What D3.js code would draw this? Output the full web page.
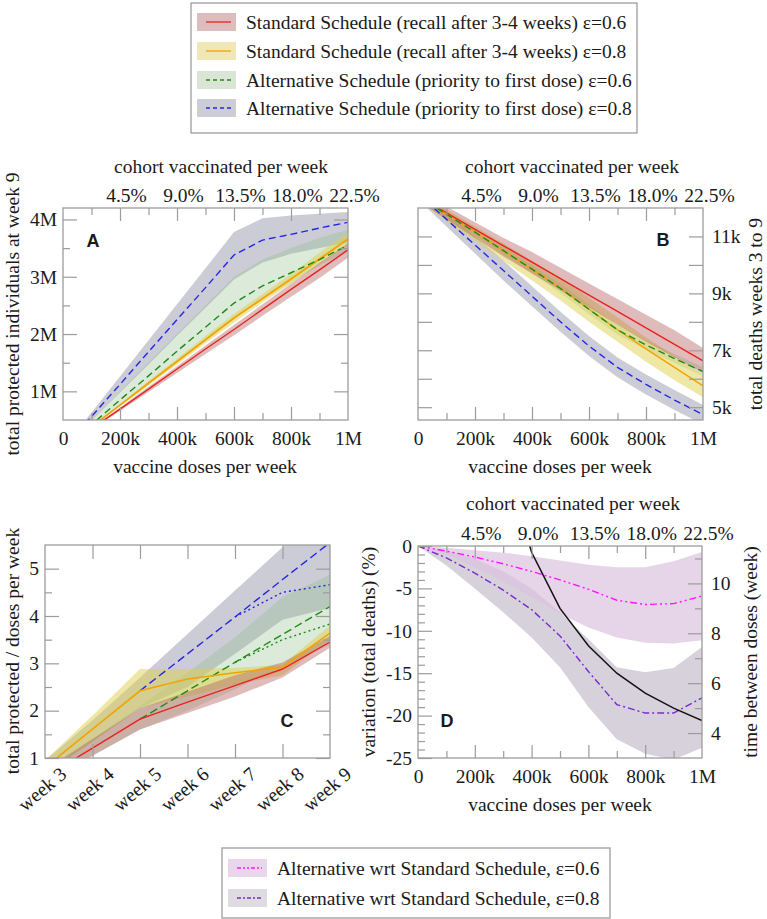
<!DOCTYPE html>
<html><head><meta charset="utf-8">
<script src="https://cdn.jsdelivr.net/npm/d3@7"></script>
<style>body{margin:0;background:#fff}svg{display:block}</style>
</head><body><svg id="c" width="767" height="919"></svg>
<script>
// ---------- DATA ----------
const doses = [0,100000,200000,300000,400000,500000,600000,700000,800000,900000,1000000];
const doseTicks = [0,200000,400000,600000,800000,1000000];
const doseLabels = ["0","200k","400k","600k","800k","1M"];
const cohortTicks = [200000,400000,600000,800000,1000000];
const cohortLabels = ["4.5%","9.0%","13.5%","18.0%","22.5%"];

// Panel A: total protected individuals at week 9 (millions)
const aRed    = [0,0.35,0.69,1.04,1.39,1.74,2.08,2.43,2.78,3.12,3.47];
const aOrange = [0,0.38,0.76,1.14,1.52,1.90,2.28,2.62,2.96,3.31,3.66];
const aGreen  = [0,0.42,0.85,1.27,1.70,2.12,2.54,2.84,3.07,3.30,3.55];
const aBlue   = [0,0.56,1.12,1.69,2.25,2.81,3.38,3.64,3.74,3.85,3.95];
const aRedLo    = [0,0.33,0.66,0.99,1.32,1.65,1.98,2.32,2.65,2.98,3.33];
const aRedHi    = [0,0.36,0.72,1.08,1.44,1.80,2.16,2.52,2.88,3.24,3.58];
const aOrangeLo = [0,0.37,0.74,1.10,1.47,1.84,2.20,2.55,2.88,3.22,3.56];
const aOrangeHi = [0,0.39,0.78,1.18,1.57,1.96,2.35,2.70,3.05,3.42,3.78];
const aGreenLo  = [0,0.38,0.76,1.14,1.52,1.90,2.28,2.60,2.90,3.20,3.45];
const aGreenHi  = [0,0.50,1.00,1.50,2.00,2.50,3.00,3.30,3.50,3.68,3.82];
const aBlueLo   = [0,0.49,0.98,1.47,1.97,2.46,2.95,3.25,3.40,3.50,3.60];
const aBlueHi   = [0,0.63,1.26,1.89,2.52,3.15,3.78,4.02,4.07,4.10,4.13];
const aTicks = [1,2,3,4];
const aTickLabels = ["1M","2M","3M","4M"];

// Panel B: total deaths weeks 3 to 9 (thousands)
const bRed    = [12.4,11.83,11.25,10.67,10.10,9.52,8.94,8.37,7.79,7.21,6.63];
const bOrange = [12.4,11.78,11.15,10.50,9.85,9.17,8.44,7.72,7.05,6.40,5.75];
const bGreen  = [12.4,11.78,11.15,10.50,9.85,9.17,8.44,7.72,7.19,6.71,6.25];
const bBlue   = [12.5,11.60,10.70,9.80,8.90,8.00,7.15,6.40,5.80,5.25,4.74];
const bRedLo    = [12.25,11.60,10.95,10.30,9.70,9.10,8.50,7.90,7.30,6.75,6.20];
const bRedHi    = [12.55,12.05,11.50,10.95,10.45,9.90,9.35,8.80,8.25,7.70,7.08];
const bOrangeLo = [12.25,11.55,10.85,10.15,9.45,8.75,8.00,7.30,6.60,5.95,5.35];
const bOrangeHi = [12.55,11.95,11.35,10.75,10.15,9.55,8.85,8.15,7.45,6.80,6.15];
const bGreenLo  = [12.30,11.68,11.03,10.37,9.70,9.00,8.27,7.55,7.03,6.55,6.10];
const bGreenHi  = [12.50,11.88,11.27,10.63,10.00,9.33,8.60,7.89,7.35,6.87,6.40];
const bBlueLo   = [12.30,11.35,10.40,9.45,8.55,7.65,6.80,6.05,5.45,4.90,4.40];
const bBlueHi   = [12.70,11.85,11.00,10.15,9.25,8.35,7.50,6.75,6.15,5.60,5.08];
const bMinorTicks = [5,6,7,8,9,10,11];
const bTicks = [5,7,9,11];
const bTickLabels = ["5k","7k","9k","11k"];

// Panel C: total protected / doses per week
const weeks = ["week 3","week 4","week 5","week 6","week 7","week 8","week 9"];
const cRed       = [0.60,1.21,1.82,2.18,2.53,2.88,3.45];
const cOrange    = [0.80,1.61,2.42,2.67,2.80,2.92,3.64];
const cGreenDash = [null,null,1.82,2.42,3.02,3.61,4.20];
const cGreenDot  = [null,null,null,null,3.02,3.50,3.83];
const cBlueDash  = [null,null,2.42,3.20,3.98,4.77,5.55];
const cBlueDot   = [null,null,null,null,3.98,4.50,4.66];
const cRedLo    = [0.45,1.05,1.60,1.95,2.30,2.70,3.33];
const cRedHi    = [0.75,1.40,2.05,2.40,2.75,3.02,3.58];
const cOrangeLo = [0.65,1.35,2.05,2.30,2.55,2.75,3.50];
const cOrangeHi = [0.95,1.90,2.88,2.88,2.90,2.97,3.80];
const cGreenLo  = [0.45,1.05,1.60,2.00,2.45,2.95,3.40];
const cGreenHi  = [0.75,1.40,2.10,2.80,3.55,4.40,4.87];
const cBlueLo   = [0.65,1.35,2.05,2.50,3.20,3.92,4.17];
const cBlueHi   = [0.95,1.80,2.70,3.62,4.54,5.45,6.37];
const cTicks = [1,2,3,4,5];

// Panel D: variation (total deaths) (%) and time between doses (week)
const dMagenta = [0,-0.6,-1.3,-2.1,-3.0,-4.0,-5.1,-6.4,-6.9,-6.8,-5.9];
const dPurple  = [0,-1.4,-3.2,-5.2,-7.5,-10.6,-14.8,-18.7,-19.7,-19.7,-17.9];
const dMagHi = [0,-0.2,-0.5,-0.8,-1.2,-1.7,-2.2,-2.5,-2.5,-1.8,-0.7];
const dMagLo = [0,-1.0,-2.5,-4.2,-6.0,-8.0,-9.6,-10.8,-11.4,-11.5,-11.1];
const dPurHi = [0,-0.6,-1.5,-3.0,-5.0,-7.8,-11.0,-14.3,-14.9,-14.4,-11.9];
const dPurLo = [0,-2.3,-5.0,-7.8,-10.8,-14.3,-19.0,-22.8,-24.5,-25.2,-23.8];
const dTime  = [null,null,null,15.0,11.25,9.0,7.5,6.4,5.6,5.0,4.5];
const dTicks = [-25,-20,-15,-10,-5,0];
const dRightTicks = [4,6,8,10];

// ---------- STYLE ----------
const SERIF = "'Liberation Serif','Times New Roman',serif";
const SANS = "'Liberation Sans',Arial,sans-serif";
const FS = 19.5;
const C = {red:"#e8231f", orange:"#f2a300", green:"#1f8a18", blue:"#2626e6",
           magenta:"#ff14ff", purple:"#7a2ad0", frame:"#9c9c9c"};
const BAND = {
  red:["#b25e5e",0.42], orange:["#ddd04e",0.5], green:["#8fbf8a",0.32], blue:["#9a9aae",0.5]
};

const svg = d3.select("#c");
svg.append("rect").attr("width",767).attr("height",919).attr("fill","#fff");
const defs = svg.append("defs");

function panel(id,x0,y0,x1,y1){
  defs.append("clipPath").attr("id","clip"+id).append("rect")
    .attr("x",x0).attr("y",y0).attr("width",x1-x0).attr("height",y1-y0);
  return svg.append("g").attr("clip-path",`url(#clip${id})`);
}
function frame(x0,y0,x1,y1){
  svg.append("rect").attr("x",x0).attr("y",y0).attr("width",x1-x0).attr("height",y1-y0)
    .attr("fill","none").attr("stroke",C.frame).attr("stroke-width",1.3);
}
function band(g,x,y,xs,lo,hi,b){
  const data = xs.map((v,i)=>({x:v,lo:lo[i],hi:hi[i]})).filter(d=>d.lo!=null);
  g.append("path").datum(data)
    .attr("d",d3.area().x(d=>x(d.x)).y0(d=>y(d.lo)).y1(d=>y(d.hi)))
    .attr("fill",b[0]).attr("fill-opacity",b[1]);
}
function line(g,x,y,xs,ys,color,dash,w){
  const data = xs.map((v,i)=>[v,ys[i]]);
  g.append("path").datum(data)
    .attr("d",d3.line().defined(d=>d[1]!=null).x(d=>x(d[0])).y(d=>y(d[1])))
    .attr("fill","none").attr("stroke",color).attr("stroke-width",w||1.4)
    .attr("stroke-dasharray",dash||null);
}
function axis(gen,scale,vals,size,fmt,pad,tx,ty,dx){
  const a = gen(scale).tickValues(vals).tickSizeInner(-size).tickSizeOuter(0)
    .tickPadding(pad).tickFormat(fmt||(()=>""));
  const g = svg.append("g").attr("transform",`translate(${tx},${ty})`).call(a);
  g.select(".domain").remove();
  g.selectAll(".tick line").attr("stroke",C.frame).attr("stroke-width",1.2);
  g.selectAll(".tick text").attr("font-family",SERIF).attr("font-size",FS).attr("fill","#1a1a1a");
  if(dx) g.selectAll(".tick text").attr("dx",dx);
  return g;
}
function text(x,y,s,opts={}){
  const t = svg.append("text").attr("x",x).attr("y",y).text(s)
    .attr("font-family",opts.sans?SANS:SERIF).attr("font-size",opts.fs||FS)
    .attr("fill","#1a1a1a").attr("text-anchor",opts.anchor||"middle");
  if(opts.bold) t.attr("font-weight","bold");
  if(opts.rot!=null) t.attr("transform",`rotate(${opts.rot},${x},${y})`);
  if(opts.dy) t.attr("dy",opts.dy);
  return t;
}
const fmtDose = d=>doseLabels[doseTicks.indexOf(d)];
const fmtCohort = d=>cohortLabels[cohortTicks.indexOf(d)];
const minorDoses = d3.range(0,1000001,100000);
const majorDoses = doseTicks;

function doseAxes(x,y0,y1){
  axis(d3.axisBottom,x,minorDoses.filter(d=>!majorDoses.includes(d)),7,null,0,0,y1);
  axis(d3.axisBottom,x,majorDoses.slice(1,-1),13,null,0,0,y1);
  axis(d3.axisBottom,x,majorDoses,0,fmtDose,11,0,y1);
  axis(d3.axisTop,x,minorDoses.filter(d=>!majorDoses.includes(d)),7,null,0,0,y0);
  axis(d3.axisTop,x,majorDoses.slice(1,-1),13,null,0,0,y0);
  axis(d3.axisTop,x,cohortTicks,0,fmtCohort,6,0,y0,6);
}

// ---------- PANEL A ----------
{
  const X0=63,X1=348,Y0=208,Y1=420;
  const x = d3.scaleLinear([0,1000000],[X0,X1]);
  const y = d3.scaleLinear([0.5,4.2],[Y1,Y0]);
  const g = panel("A",X0,Y0,X1,Y1);
  band(g,x,y,doses,aBlueLo,aBlueHi,BAND.blue);
  band(g,x,y,doses,aGreenLo,aGreenHi,BAND.green);
  band(g,x,y,doses,aOrangeLo,aOrangeHi,BAND.orange);
  band(g,x,y,doses,aRedLo,aRedHi,BAND.red);
  line(g,x,y,doses,aRed,C.red);
  line(g,x,y,doses,aOrange,C.orange,null,1.8);
  line(g,x,y,doses,aGreen,C.green,"7,4");
  line(g,x,y,doses,aBlue,C.blue,"7,4");
  frame(X0,Y0,X1,Y1);
  doseAxes(x,Y0,Y1);
  axis(d3.axisLeft,y,[1.5,2.5,3.5],7,null,0,X0,0);
  axis(d3.axisLeft,y,aTicks,14,d=>aTickLabels[aTicks.indexOf(d)],6,X0,0);
  axis(d3.axisRight,y,[1.5,2.5,3.5],7,null,0,X1,0);
  axis(d3.axisRight,y,aTicks,14,null,0,X1,0);
  text(93,247,"A",{sans:true,bold:true,fs:18});
  text(221,173,"cohort vaccinated per week");
  text(205,473,"vaccine doses per week");
  text(12,314,"total protected individuals at week 9",{rot:-90,dy:"0.35em"});
}

// ---------- PANEL B ----------
{
  const X0=418,X1=703,Y0=208,Y1=420;
  const x = d3.scaleLinear([0,1000000],[X0,X1]);
  const y = d3.scaleLinear([4.55,12],[Y1,Y0]);
  const g = panel("B",X0,Y0,X1,Y1);
  band(g,x,y,doses,bBlueLo,bBlueHi,BAND.blue);
  band(g,x,y,doses,bGreenLo,bGreenHi,BAND.green);
  band(g,x,y,doses,bOrangeLo,bOrangeHi,BAND.orange);
  band(g,x,y,doses,bRedLo,bRedHi,BAND.red);
  line(g,x,y,doses,bRed,C.red);
  line(g,x,y,doses,bOrange,C.orange);
  line(g,x,y,doses,bGreen,C.green,"7,4");
  line(g,x,y,doses,bBlue,C.blue,"7,4");
  frame(X0,Y0,X1,Y1);
  doseAxes(x,Y0,Y1);
  axis(d3.axisLeft,y,bMinorTicks,14,null,0,X0,0);
  axis(d3.axisRight,y,bMinorTicks,14,null,0,X1,0);
  axis(d3.axisRight,y,bTicks,0,d=>bTickLabels[bTicks.indexOf(d)],9,X1,0);
  text(663,246,"B",{sans:true,bold:true,fs:18});
  text(572,173,"cohort vaccinated per week");
  text(560,473,"vaccine doses per week");
  text(755,314,"total deaths weeks 3 to 9",{rot:-90,dy:"0.35em"});
}

// ---------- PANEL C ----------
{
  const X0=45,X1=330,Y0=545,Y1=758;
  const x = d3.scalePoint(weeks,[X0,X1]);
  const y = d3.scaleLinear([1,5.5],[Y1,Y0]);
  const g = panel("C",X0,Y0,X1,Y1);
  band(g,x,y,weeks,cBlueLo,cBlueHi,BAND.blue);
  band(g,x,y,weeks,cGreenLo,cGreenHi,BAND.green);
  band(g,x,y,weeks,cOrangeLo,cOrangeHi,BAND.orange);
  band(g,x,y,weeks,cRedLo,cRedHi,BAND.red);
  line(g,x,y,weeks,cBlueDash,C.blue,"8,4");
  line(g,x,y,weeks,cBlueDot,C.blue,"2,3");
  line(g,x,y,weeks,cGreenDash,C.green,"8,4");
  line(g,x,y,weeks,cGreenDot,C.green,"2,3");
  line(g,x,y,weeks,cRed,C.red);
  line(g,x,y,weeks,cOrange,C.orange,null,1.6);
  frame(X0,Y0,X1,Y1);
  const inner = weeks.slice(1,-1);
  axis(d3.axisBottom,x,inner,14,null,0,0,Y1);
  axis(d3.axisTop,x,inner,14,null,0,0,Y0);
  axis(d3.axisLeft,y,[1.5,2.5,3.5,4.5],7,null,0,X0,0);
  axis(d3.axisLeft,y,cTicks,14,d=>d,6,X0,0);
  axis(d3.axisRight,y,[1.5,2.5,3.5,4.5],7,null,0,X1,0);
  axis(d3.axisRight,y,cTicks,14,null,0,X1,0);
  weeks.forEach(w=>{
    text(x(w)-3,789,w,{rot:-40,dy:"0.35em"});
  });
  text(287,727,"C",{sans:true,bold:true,fs:18});
  text(12,651,"total protected / doses per week",{rot:-90,dy:"0.35em"});
}

// ---------- PANEL D ----------
{
  const X0=418,X1=702,Y0=546,Y1=758;
  const x = d3.scaleLinear([0,1000000],[X0,X1]);
  const y = d3.scaleLinear([-25,0],[Y1,Y0]);
  const yR = d3.scaleLinear([3,11.5],[Y1,Y0]);
  const g = panel("D",X0,Y0,X1,Y1);
  band(g,x,y,doses,dPurLo,dPurHi,["#cfc9d4",0.85]);
  band(g,x,y,doses,dMagLo,dMagHi,["#dcc2df",0.7]);
  line(g,x,y,doses,dMagenta,C.magenta,"7,3,2,3,2,3");
  line(g,x,y,doses,dPurple,C.purple,"7,3,2,3");
  line(g,x,yR,doses,dTime,"#111",null,1.5);
  frame(X0,Y0,X1,Y1);
  doseAxes(x,Y0,Y1);
  axis(d3.axisLeft,y,d3.range(-24,0).filter(d=>d%5!==0),7,null,0,X0,0);
  axis(d3.axisLeft,y,dTicks,14,d=>d,6,X0,0);
  axis(d3.axisRight,yR,[4,5,6,7,8,9,10,11].filter(d=>d%2),7,null,0,X1,0);
  axis(d3.axisRight,yR,dRightTicks,14,d=>d,9,X1,0);
  text(447,727,"D",{sans:true,bold:true,fs:18});
  text(573,510,"cohort vaccinated per week");
  text(560,811,"vaccine doses per week");
  text(368,652,"variation (total deaths) (%)",{rot:-90,dy:"0.35em"});
  text(750,652,"time between doses (week)",{rot:-90,dy:"0.35em"});
}

// ---------- LEGENDS ----------
const legTop = [
  {label:"Standard Schedule (recall after 3-4 weeks) ε=0.6", sw:"#dcbcbc", color:C.red, dash:null},
  {label:"Standard Schedule (recall after 3-4 weeks) ε=0.8", sw:"#efe8b6", color:C.orange, dash:null},
  {label:"Alternative Schedule (priority to first dose) ε=0.6", sw:"#dbe5d6", color:C.green, dash:"4,3"},
  {label:"Alternative Schedule (priority to first dose) ε=0.8", sw:"#cdcdd6", color:C.blue, dash:"4,3"}
];
const legBot = [
  {label:"Alternative wrt Standard Schedule, ε=0.6", sw:"#ead6ea", color:C.magenta, dash:"4,2,2,2,2,2"},
  {label:"Alternative wrt Standard Schedule, ε=0.8", sw:"#dedbe1", color:C.purple, dash:"4,2,2,2"}
];
function legend(items,bx,by,bw,bh,rows){
  svg.append("rect").attr("x",bx).attr("y",by).attr("width",bw).attr("height",bh)
    .attr("fill","#fff").attr("stroke","#9c9c9c").attr("stroke-width",1.3);
  items.forEach((it,i)=>{
    const cy = rows[i];
    svg.append("rect").attr("x",bx+6).attr("y",cy-9).attr("width",39).attr("height",18).attr("fill",it.sw);
    svg.append("line").attr("x1",bx+15).attr("x2",bx+40).attr("y1",cy).attr("y2",cy)
      .attr("stroke",it.color).attr("stroke-width",1.3).attr("stroke-dasharray",it.dash);
    text(bx+55,cy,it.label,{anchor:"start",dy:"0.35em"});
  });
}
legend(legTop,191,3,446,130,[22,51,80,108]);
legend(legBot,222,848,388,70,[868,898]);
</script></body></html>
